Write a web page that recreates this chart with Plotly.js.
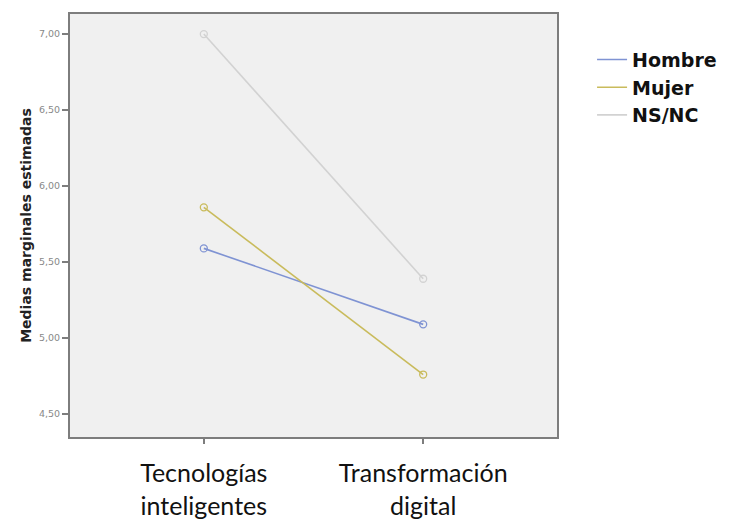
<!DOCTYPE html>
<html>
<head>
<meta charset="utf-8">
<script src="https://cdn.plot.ly/plotly-3.0.1.min.js"></script>
<style>html,body{margin:0;padding:0;background:#fff;}#chart{width:741px;height:524px;}</style>
</head>
<body>
<div id="chart"></div>
<script>
const categories = ["Tecnologías<br>inteligentes", "Transformación<br>digital"];
const seriesNames = ["Hombre", "Mujer", "NS/NC"];
const hombre = [5.59, 5.09];
const mujer = [5.86, 4.76];
const nsnc = [7.00, 5.39];
const yTicks = [4.5, 5.0, 5.5, 6.0, 6.5, 7.0];

const colors = ["#7f93d3", "#c9bb5c", "#d2d2d2"];
const values = [hombre, mujer, nsnc];
const xPos = [0, 1];

const traces = [];
values.forEach((v, i) => {
  traces.push({
    type: "scatter", mode: "lines", name: seriesNames[i],
    legendgroup: seriesNames[i],
    x: xPos, y: v,
    line: {color: colors[i], width: 1.6}
  });
});
values.forEach((v, i) => {
  traces.push({
    type: "scatter", mode: "markers", name: seriesNames[i],
    legendgroup: seriesNames[i], showlegend: false,
    x: xPos, y: v,
    marker: {symbol: "circle-open", size: 7, color: colors[i], line: {width: 1.3, color: colors[i]}}
  });
});

const layout = {
  width: 741, height: 524,
  margin: {l: 70, r: 184, t: 14, b: 87},
  paper_bgcolor: "#ffffff",
  plot_bgcolor: "#f0f0f0",
  separators: ",.",
  showlegend: true,
  legend: {
    x: 1.072, y: 0.937, xanchor: "left", yanchor: "top",
    font: {family: "'DejaVu Sans', sans-serif", size: 19, color: "#111", weight: "bold"},
    tracegroupgap: 0, itemwidth: 30,
    bgcolor: "rgba(0,0,0,0)"
  },
  xaxis: {
    range: [-0.61, 1.61],
    tickvals: xPos,
    ticktext: categories,
    showgrid: false, zeroline: false,
    showline: true, mirror: true, linecolor: "#7d7d7d", linewidth: 2,
    ticks: "outside", ticklen: 5, tickwidth: 1.5, tickcolor: "#7d7d7d",
    ticklabelstandoff: 8,
    tickfont: {family: "Lato, 'Open Sans', sans-serif", size: 25, color: "#111"}
  },
  yaxis: {
    range: [4.349, 7.132],
    tickvals: yTicks,
    tickformat: ".2f",
    showgrid: false, zeroline: false,
    showline: true, mirror: true, linecolor: "#7d7d7d", linewidth: 2,
    ticks: "outside", ticklen: 6, tickwidth: 1.5, tickcolor: "#7d7d7d",
    tickfont: {family: "'DejaVu Sans', sans-serif", size: 9.5, color: "#888"},
    title: {text: "<b>Medias marginales estimadas</b>", standoff: 4,
            font: {family: "'DejaVu Sans', sans-serif", size: 14, color: "#222"}}
  }
};

Plotly.newPlot("chart", traces, layout, {displayModeBar: false, staticPlot: true});
</script>
</body>
</html>
